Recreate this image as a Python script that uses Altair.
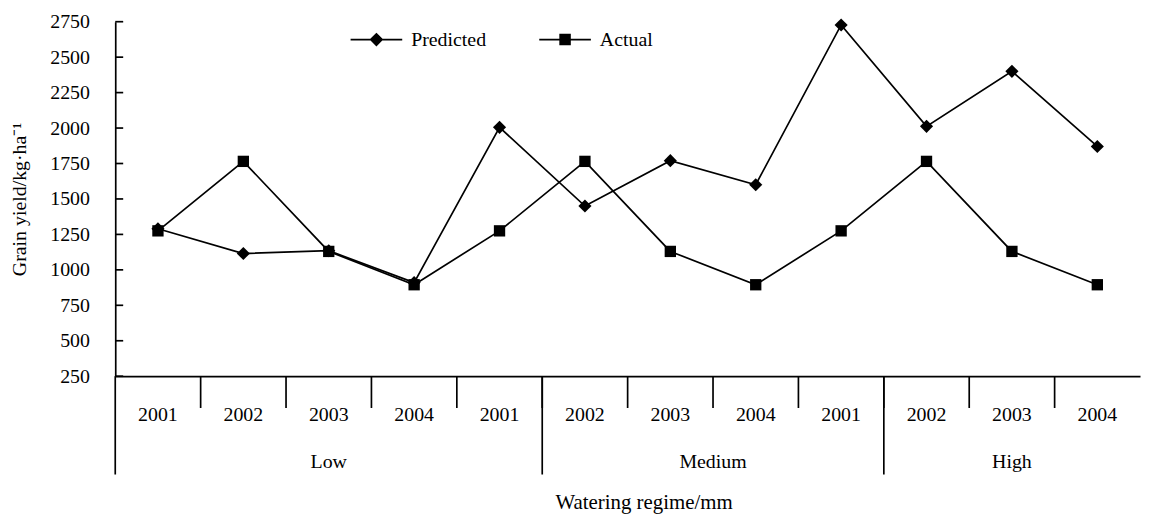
import altair as alt
import pandas as pd

# ---- data ----
years = ["2001", "2002", "2003", "2004", "2001", "2002", "2003", "2004", "2001", "2002", "2003", "2004"]
groups = ["Low"] * 5 + ["Medium"] * 4 + ["High"] * 3
series_names = ["Predicted", "Actual"]
predicted = [1290, 1115, 1135, 910, 2005, 1450, 1770, 1600, 2727, 2012, 2400, 1870]
actual = [1275, 1765, 1130, 895, 1275, 1765, 1130, 895, 1275, 1765, 1130, 895]
y_ticks = [250, 500, 750, 1000, 1250, 1500, 1750, 2000, 2250, 2500, 2750]

FONT = "Liberation Serif"
FS = 20
W, H = 1032, 357
LW = 1.7

rows = []
for s, vals in zip(series_names, [predicted, actual]):
    for i, v in enumerate(vals):
        rows.append({"idx": i, "year": years[i], "group": groups[i], "series": s, "value": v})
df = pd.DataFrame(rows)

cats = pd.DataFrame({"idx": list(range(len(years))), "year": years, "group": groups})
short_div = pd.DataFrame({"idx": [i - 0.5 for i in range(1, len(years))]})
group_order = []
for g in groups:
    if g not in group_order:
        group_order.append(g)
g_start = [groups.index(g) - 0.5 for g in group_order]
g_center = [sum(i for i, x in enumerate(groups) if x == g) / groups.count(g) for g in group_order]
long_div = pd.DataFrame({"idx": g_start})
group_lab = pd.DataFrame({"idx": g_center, "group": group_order})
ticks_df = pd.DataFrame({"value": y_ticks})

xscale = alt.Scale(domain=[-0.5, len(years) - 0.5], nice=False, zero=False)
yscale = alt.Scale(domain=[y_ticks[0], y_ticks[-1]], nice=False, zero=False)
xaxis = alt.Axis(domain=True, ticks=False, labels=False, grid=False,
                 title="Watering regime/mm", titleFont=FONT, titleFontSize=21,
                 titleFontWeight="normal", titleColor="black",
                 titleX=532, titleY=133, titleBaseline="alphabetic", titleAlign="center",
                 domainColor="black", domainWidth=LW)
yaxis = alt.Axis(values=y_ticks, format="d", ticks=False, tickSize=0, labelPadding=26, grid=False,
                 labelFont=FONT, labelFontSize=FS, labelColor="black",
                 title="Grain yield/kg·ha⁻¹", titleFont=FONT, titleFontSize=FS,
                 titleFontWeight="normal", titleColor="black", titleX=-96,
                 titleBaseline="middle", domainColor="black", domainWidth=LW)

X = alt.X("idx:Q", scale=xscale, axis=xaxis)
Y = alt.Y("value:Q", scale=yscale, axis=yaxis)

base = alt.Chart(df)

lines = base.mark_line(color="black", strokeWidth=LW).encode(
    x=X, y=Y, detail="series:N")

points = base.mark_point(filled=True, color="black", opacity=1).encode(
    x=X, y=Y,
    shape=alt.Shape("series:N", scale=alt.Scale(domain=series_names, range=["diamond", "square"]), legend=None),
    size=alt.Size("series:N", scale=alt.Scale(domain=series_names, range=[175, 130]), legend=None),
)

# legend symbols: a line segment with a solid marker (drawn by concentric outlines)
def diamond_path(rs):
    return "".join(f"M0,{-r:.3f}L{r:.3f},0L0,{r:.3f}L{-r:.3f},0Z" for r in rs)

def square_path(rs):
    return "".join(f"M{-r:.3f},{-r:.3f}L{r:.3f},{-r:.3f}L{r:.3f},{r:.3f}L{-r:.3f},{r:.3f}Z" for r in rs)

path_d = "M-1,0L1,0" + diamond_path([0.22, 0.18, 0.14, 0.10, 0.06, 0.025])
path_s = "M-1,0L1,0" + square_path([0.19, 0.155, 0.12, 0.085, 0.05, 0.015])

legend_layer = base.transform_filter("datum.value < -1e9").mark_point(
    filled=False, color="black", strokeWidth=LW).encode(
    x=X, y=Y,
    shape=alt.Shape("series:N", scale=alt.Scale(domain=series_names, range=[path_d, path_s]),
                    legend=alt.Legend(title=None, orient="none", legendX=236, legendY=-9,
                                      direction="horizontal", symbolSize=2704,
                                      symbolStrokeColor="black",
                                      symbolStrokeWidth=LW, symbolOpacity=1,
                                      labelFont=FONT, labelFontSize=FS, labelColor="black",
                                      labelOffset=8, columnPadding=49, padding=0, offset=0)),
)

yticks_layer = alt.Chart(ticks_df).mark_rule(color="black", strokeWidth=LW).encode(
    y=Y, x=alt.value(0), x2=alt.value(8))

short_rules = alt.Chart(short_div).mark_rule(color="black", strokeWidth=LW).encode(
    x=X, y=alt.value(H), y2=alt.value(409 - 20))
long_rules = alt.Chart(long_div).mark_rule(color="black", strokeWidth=LW).encode(
    x=X, y=alt.value(H), y2=alt.value(476 - 20))
year_text = alt.Chart(cats).mark_text(font=FONT, fontSize=FS, color="black", baseline="middle", align="center").encode(
    x=X, y=alt.value(416 - 20), text="year:N")
group_text = alt.Chart(group_lab).mark_text(font=FONT, fontSize=FS, color="black", baseline="middle", align="center").encode(
    x=X, y=alt.value(463 - 20), text="group:N")

chart = alt.layer(
    lines, points, legend_layer, yticks_layer, short_rules, long_rules, year_text, group_text
).resolve_scale(shape="independent").properties(
    width=W, height=H,
    autosize=alt.AutoSizeParams(type="none"),
    padding={"left": 108, "top": 12, "right": 2, "bottom": 141},
    background="white",
).configure_view(stroke=None)

chart.save("out.html", embed_options={"renderer": "svg", "actions": False})
